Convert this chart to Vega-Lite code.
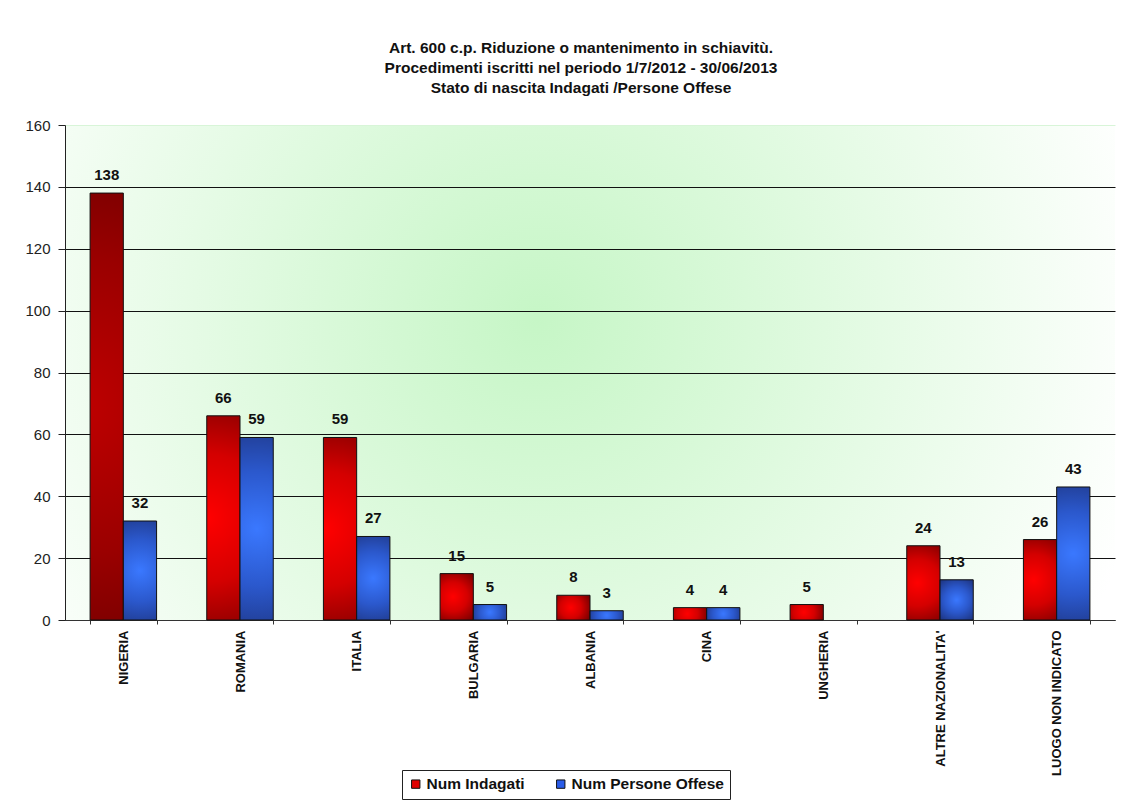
{
  "$schema": "https://vega.github.io/schema/vega-lite/v6.json",
  "width": 1050,
  "height": 495,
  "padding": {"left": 24, "top": 40, "right": 10, "bottom": 0},
  "background": "white",
  "title": {
    "text": ["Art. 600 c.p. Riduzione o mantenimento in schiavitù.", "Procedimenti iscritti  nel periodo 1/7/2012  - 30/06/2013", "Stato di nascita Indagati /Persone Offese"],
    "font": "Liberation Sans",
    "fontSize": 15.5,
    "fontWeight": "bold",
    "lineHeight": 20,
    "color": "#111111",
    "anchor": "middle",
    "dx": -9,
    "offset": 22
  },
  "data": {
    "values": [
      {"paese": "NIGERIA", "serie": "Num Indagati", "valore": 138},
      {"paese": "NIGERIA", "serie": "Num Persone Offese", "valore": 32},
      {"paese": "ROMANIA", "serie": "Num Indagati", "valore": 66},
      {"paese": "ROMANIA", "serie": "Num Persone Offese", "valore": 59},
      {"paese": "ITALIA", "serie": "Num Indagati", "valore": 59},
      {"paese": "ITALIA", "serie": "Num Persone Offese", "valore": 27},
      {"paese": "BULGARIA", "serie": "Num Indagati", "valore": 15},
      {"paese": "BULGARIA", "serie": "Num Persone Offese", "valore": 5},
      {"paese": "ALBANIA", "serie": "Num Indagati", "valore": 8},
      {"paese": "ALBANIA", "serie": "Num Persone Offese", "valore": 3},
      {"paese": "CINA", "serie": "Num Indagati", "valore": 4},
      {"paese": "CINA", "serie": "Num Persone Offese", "valore": 4},
      {"paese": "UNGHERIA", "serie": "Num Indagati", "valore": 5},
      {"paese": "ALTRE NAZIONALITA'", "serie": "Num Indagati", "valore": 24},
      {"paese": "ALTRE NAZIONALITA'", "serie": "Num Persone Offese", "valore": 13},
      {"paese": "LUOGO NON INDICATO", "serie": "Num Indagati", "valore": 26},
      {"paese": "LUOGO NON INDICATO", "serie": "Num Persone Offese", "valore": 43}
    ]
  },
  "encoding": {
    "x": {
      "field": "paese",
      "type": "nominal",
      "sort": null,
      "scale": {"paddingInner": 0.43, "paddingOuter": 0.215},
      "axis": {
        "title": null,
        "labelAngle": -90,
        "labelAlign": "right",
        "labelBaseline": "middle",
        "labelFont": "Liberation Sans",
        "labelFontSize": 13,
        "labelFontWeight": "bold",
        "labelColor": "#111111",
        "labelPadding": 6,
        "tickBand": "extent",
        "tickSize": 4,
        "tickColor": "#333333",
        "domainColor": "#333333",
        "labelLimit": 300
      }
    },
    "xOffset": {"field": "serie", "type": "nominal", "scale": {"domain": ["Num Indagati", "Num Persone Offese"], "paddingInner": 0, "paddingOuter": 0}},
    "y": {
      "field": "valore",
      "type": "quantitative",
      "scale": {"domain": [0, 160], "nice": false},
      "axis": {
        "title": null,
        "values": [0, 20, 40, 60, 80, 100, 120, 140, 160],
        "labelFont": "Liberation Sans",
        "labelFontSize": 15,
        "labelColor": "#222222",
        "labelPadding": 8,
        "tickSize": 7,
        "tickColor": "#222222",
        "domainColor": "#222222",
        "grid": true,
        "gridColor": {"condition": {"test": "datum.value === 160", "value": "#d8f5d8"}, "value": "#111111"},
        "gridWidth": 1
      }
    }
  },
  "layer": [
    {
      "mark": {"type": "bar", "stroke": "#111111", "strokeWidth": 1},
      "encoding": {
        "fill": {
          "condition": [
            {
              "test": "datum.serie === 'Num Indagati' && datum.valore > 100",
              "value": {"gradient": "radial", "x1": 0.42, "y1": 0.5, "r1": 0, "x2": 0.42, "y2": 0.5, "r2": 0.7, "stops": [{"offset": 0, "color": "#c00000"}, {"offset": 0.5, "color": "#9a0000"}, {"offset": 1, "color": "#640000"}]}
            },
            {
              "test": "datum.serie === 'Num Indagati'",
              "value": {"gradient": "radial", "x1": 0.42, "y1": 0.5, "r1": 0, "x2": 0.42, "y2": 0.5, "r2": 0.7, "stops": [{"offset": 0, "color": "#ff0000"}, {"offset": 0.45, "color": "#d40000"}, {"offset": 1, "color": "#680000"}]}
            }
          ],
          "value": {"gradient": "radial", "x1": 0.5, "y1": 0.5, "r1": 0, "x2": 0.5, "y2": 0.5, "r2": 0.7, "stops": [{"offset": 0, "color": "#3a78ff"}, {"offset": 0.45, "color": "#2b58cc"}, {"offset": 1, "color": "#1a2c70"}]}
        }
      }
    },
    {
      "mark": {"type": "square", "opacity": 0, "size": 0},
      "encoding": {
        "color": {
          "field": "serie",
          "type": "nominal",
          "scale": {"domain": ["Num Indagati", "Num Persone Offese"], "range": ["#e00000", "#2a5ce8"]},
          "legend": {
            "title": null,
            "orient": "none",
            "direction": "horizontal",
            "legendX": 337,
            "legendY": 645,
            "strokeColor": "#222222",
            "fillColor": "white",
            "padding": 6,
            "symbolType": "square",
            "symbolSize": 70,
            "symbolOpacity": 1,
            "symbolStrokeColor": "#111111",
            "symbolStrokeWidth": 1,
            "labelFont": "Liberation Sans",
            "labelFontSize": 15.5,
            "labelFontWeight": "bold",
            "labelColor": "#111111",
            "labelOffset": 3,
            "columnPadding": 28
          }
        }
      }
    },
    {
      "mark": {"type": "text", "dy": -10, "font": "Liberation Sans", "fontSize": 15, "fontWeight": "bold", "color": "#111111", "baseline": "bottom"},
      "encoding": {"text": {"field": "valore", "type": "quantitative"}}
    }
  ],
  "config": {
    "view": {
      "stroke": null,
      "fill": {"gradient": "radial", "x1": 0.45, "y1": 0.45, "r1": 0, "x2": 0.45, "y2": 0.45, "r2": 0.6, "stops": [{"offset": 0, "color": "#c6f6c6"}, {"offset": 1, "color": "#ffffff"}]}
    }
  }
}
